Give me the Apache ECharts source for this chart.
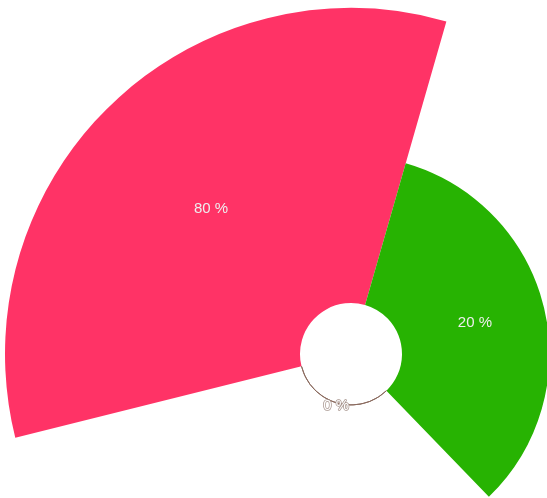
<!DOCTYPE html>
<html>
<head>
<meta charset="utf-8">
<script src="https://cdn.jsdelivr.net/npm/echarts@6/dist/echarts.min.js"></script>
<style>
  html, body { margin: 0; padding: 0; background: #fff; }
  #chart { width: 547px; height: 498px; }
</style>
</head>
<body>
<div id="chart"></div>
<script>
// Share of each group, in percent
const names = ['A', 'B', 'C'];
const shares = [80, 20, 0];
const colors = ['#ff3366', '#27b302', '#8a6a5e'];

// Equal-angle rose: each sector's radial length follows the square root of its share
const chart = echarts.init(document.getElementById('chart'), null, { renderer: 'canvas' });
chart.setOption({
  animation: false,
  backgroundColor: '#ffffff',
  series: [{
    type: 'pie',
    roseType: 'area',
    center: [351, 354],
    radius: [51, 346],
    startAngle: 194,
    clockwise: true,
    color: colors,
    label: {
      show: true,
      position: 'inside',
      fontSize: 15,
      fontFamily: 'Liberation Sans, Arial, sans-serif',
      formatter: p => p.data.share + ' %'
    },
    labelLine: { show: false },
    data: names.map((n, i) => {
      const empty = shares[i] === 0;
      return {
        name: n,
        value: Math.sqrt(shares[i]),
        share: shares[i],
        // a thin outline keeps an empty sector visible as an arc
        itemStyle: { borderColor: colors[i], borderWidth: empty ? 1 : 0 },
        label: empty
          ? { color: '#ffffff', textBorderColor: '#a8968f', textBorderWidth: 1.5 }
          : {}
      };
    })
  }]
});
</script>
</body>
</html>
